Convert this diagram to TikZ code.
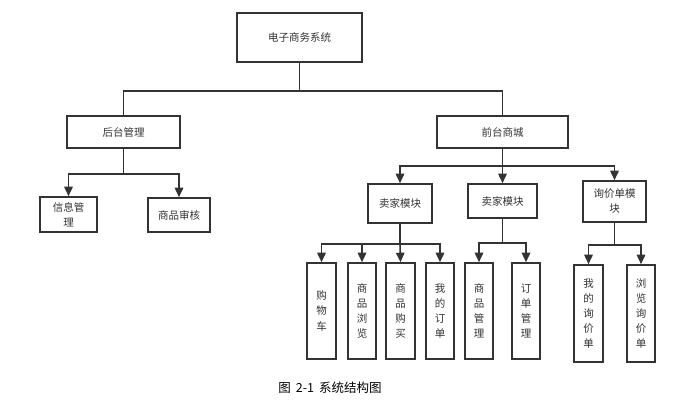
\documentclass[tikz,border=0pt]{standalone}
\usepackage{fontspec}
\setmainfont{Noto Sans CJK SC}
\usetikzlibrary{arrows.meta}
\definecolor{ink}{HTML}{333333}
\tikzset{
  box/.style={draw=ink, line width=1.6pt, fill=white, text=ink, inner sep=1pt,
    align=center, font=\fontsize{10.5}{15}\selectfont},
  conn/.style={draw=ink, line width=1.6pt},
  arr/.style={conn, -{Triangle[width=8.5pt,length=9.5pt]}},
}
\begin{document}
\begin{tikzpicture}[x=1pt,y=-1pt]
\useasboundingbox[fill=white] (0,0) rectangle (684,408);
% level 0
\node[box, minimum width=125pt, minimum height=49pt] (sys) at (299.5,37.5) {电子商务系统};
% level 1
\node[box, minimum width=113pt, minimum height=32pt] (back) at (123.5,132) {后台管理};
\node[box, minimum width=131pt, minimum height=32pt] (front) at (502.5,132) {前台商城};
% level 2 (back)
\node[box, minimum width=57pt, minimum height=35pt, text width=40pt] (info) at (68.5,214.5) {信息管\\理};
\node[box, minimum width=62pt, minimum height=34pt] (audit) at (179,215) {商品审核};
% level 2 (front)
\node[box, minimum width=64pt, minimum height=39pt] (buyer) at (400,203.5) {卖家模块};
\node[box, minimum width=69pt, minimum height=34pt] (seller) at (502.5,201) {卖家模块};
\node[box, minimum width=63pt, minimum height=41pt, text width=52pt] (inq) at (614.5,201.5) {询价单模\\块};
% level 3
\node[box, minimum width=29pt, minimum height=96pt, text width=12pt] (cart) at (321.5,311) {购\\物\\车};
\node[box, minimum width=28pt, minimum height=96pt, text width=12pt] (browse) at (362,311) {商\\品\\浏\\览};
\node[box, minimum width=29pt, minimum height=96pt, text width=12pt] (buy) at (400.5,311) {商\\品\\购\\买};
\node[box, minimum width=28pt, minimum height=96pt, text width=12pt] (myord) at (440,311) {我\\的\\订\\单};
\node[box, minimum width=28pt, minimum height=96pt, text width=12pt] (gmgmt) at (479,311) {商\\品\\管\\理};
\node[box, minimum width=28pt, minimum height=96pt, text width=12pt] (omgmt) at (526,311) {订\\单\\管\\理};
\node[box, minimum width=29pt, minimum height=97pt, text width=12pt] (myinq) at (588.5,313.5) {我\\的\\询\\价\\单};
\node[box, minimum width=28pt, minimum height=97pt, text width=12pt] (brinq) at (641,313.5) {浏\\览\\询\\价\\单};
% caption
\node[text=black, font=\fontsize{12.5}{14}\selectfont] (cap) at (330,388) {图\hspace{5pt}2-1\hspace{5pt}系统结构图};
% connectors level 0 -> 1
\draw[conn] (sys.south) -- ++(0,28) coordinate (j0) -| (back.north);
\draw[conn] (j0) -| (front.north);
% back -> children
\draw[arr] (back.south) -- ++(0,25) coordinate (j1) -| (info.north);
\draw[arr] (j1) -| (audit.north);
% front -> modules
\draw[conn] (front.south) -- ++(0,17) coordinate (j2);
\draw[arr] (j2) -| (buyer.north);
\draw[arr] (j2) -- (seller.north);
\draw[arr] (j2) -| (inq.north);
% buyer -> children
\draw[conn] (buyer.south) -- ++(0,20) coordinate (j3);
\draw[arr] (j3) -| (cart.north);
\draw[arr] (j3) -| (browse.north);
\draw[arr] (j3) -- (buy.north);
\draw[arr] (j3) -| (myord.north);
% seller -> children
\draw[conn] (seller.south) -- ++(0,24) coordinate (j4);
\draw[arr] (j4) -| (gmgmt.north);
\draw[arr] (j4) -| (omgmt.north);
% inquiry -> children
\draw[conn] (inq.south) -- ++(0,22) coordinate (j5);
\draw[arr] (j5) -| (myinq.north);
\draw[arr] (j5) -| (brinq.north);
\end{tikzpicture}
\end{document}
